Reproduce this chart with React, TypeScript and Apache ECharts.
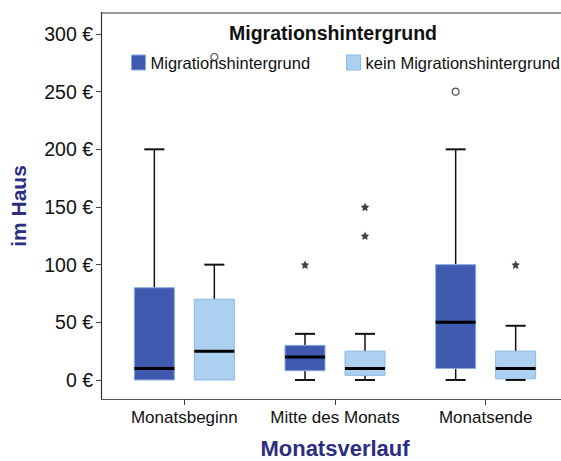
import React, { useEffect, useRef } from "react";
import * as echarts from "echarts";

// ---- data ----
const categories = ["Monatsbeginn", "Mitte des Monats", "Monatsende"];
const groupNames = ["Migrationshintergrund", "kein Migrationshintergrund"];
const legendTitle = "Migrationshintergrund";
const xAxisTitle = "Monatsverlauf";
const yAxisTitle = "im Haus";
const yTicks = [0, 50, 100, 150, 200, 250, 300];
const yRange = [-16.5, 318.2];

// [min, Q1, median, Q3, max] per category
const migrationBoxes = [
  [0, 0, 10, 80, 200],
  [0, 8, 20, 30, 40],
  [0, 10, 50, 100, 200],
];
const keinMigrationBoxes = [
  [0, 0, 25, 70, 100],
  [0, 4, 10, 25, 40],
  [0, 1, 10, 25, 47],
];

// outliers: [category, value, kind]  (kind: "o" = outlier circle, "x" = extreme star)
const migrationOutliers: [string, number, string][] = [
  ["Mitte des Monats", 100, "x"],
  ["Monatsende", 250, "o"],
];
const keinMigrationOutliers: [string, number, string][] = [
  ["Monatsbeginn", 280, "o"],
  ["Mitte des Monats", 150, "x"],
  ["Mitte des Monats", 125, "x"],
  ["Monatsende", 100, "x"],
];

// ---- styles ----
const FONT = "'Liberation Sans', Arial, sans-serif";
const DARK_FILL = "#3f5aae";
const DARK_EDGE = "#86abdc";
const LIGHT_FILL = "#acd0ef";
const LIGHT_EDGE = "#8db7e4";
const TITLE_COLOR = "#2c2c82";
const BOX_W = 40;
const CAP_W = 20;
const OFFSET = 30;
const STAR =
  "path://M0,-10 L2.9,-4 9.5,-3.1 4.7,1.5 5.9,8.1 0,5 -5.9,8.1 -4.7,1.5 -9.5,-3.1 -2.9,-4 Z";

function makeRenderItem(offset: number, fill: string, edge: string) {
  return (_params: any, api: any) => {
    const cat = api.value(0);
    const cx = api.coord([cat, 0])[0] + offset;
    const y = (i: number) => api.coord([cat, api.value(i)])[1];
    const yMin = y(1);
    const yQ1 = y(2);
    const yMed = y(3);
    const yQ3 = y(4);
    const yMax = y(5);
    const lineStyle = { stroke: "#111", lineWidth: 1.5 };
    const capStyle = { stroke: "#111", lineWidth: 2 };
    const children: any[] = [];
    if (api.value(5) > api.value(4)) {
      children.push({ type: "line", shape: { x1: cx, y1: yQ3, x2: cx, y2: yMax }, style: lineStyle });
      children.push({
        type: "line",
        shape: { x1: cx - CAP_W / 2, y1: yMax, x2: cx + CAP_W / 2, y2: yMax },
        style: capStyle,
      });
    }
    if (api.value(1) < api.value(2)) {
      children.push({ type: "line", shape: { x1: cx, y1: yQ1, x2: cx, y2: yMin }, style: lineStyle });
    }
    children.push({
      type: "rect",
      shape: { x: cx - BOX_W / 2, y: yQ3, width: BOX_W, height: yQ1 - yQ3 },
      style: { fill, stroke: edge, lineWidth: 1 },
    });
    children.push({
      type: "line",
      shape: { x1: cx - BOX_W / 2, y1: yMed, x2: cx + BOX_W / 2, y2: yMed },
      style: { stroke: "#000", lineWidth: 3 },
    });
    if (api.value(1) < api.value(2)) {
      children.push({
        type: "line",
        shape: { x1: cx - CAP_W / 2, y1: yMin, x2: cx + CAP_W / 2, y2: yMin },
        style: capStyle,
      });
    }
    return { type: "group", children };
  };
}

function outlierData(list: [string, number, string][]) {
  return list.map(([c, v, k]) =>
    k === "o"
      ? { value: [c, v], symbol: "circle", symbolSize: 7, itemStyle: { color: "#fff", borderColor: "#222", borderWidth: 1.2 } }
      : { value: [c, v], symbol: STAR, symbolSize: 8.5, itemStyle: { color: "#111" } }
  );
}

export default function App() {
  const ref = useRef<HTMLDivElement>(null);
  useEffect(() => {
    document.body.style.margin = "0";
    const chart = echarts.init(ref.current!, null, { renderer: "svg" });
    const boxData = (boxes: number[][]) => boxes.map((b, i) => [i, ...b]);
    chart.setOption({
      animation: false,
      backgroundColor: "#fff",
      textStyle: { fontFamily: FONT },
      grid: { left: 109, width: 452, top: 13, height: 386, outerBoundsMode: "none", containLabel: false },
      legend: {
        orient: "horizontal",
        left: 126,
        top: 49,
        width: 460,
        itemWidth: 14,
        itemHeight: 15,
        itemGap: 36,
        icon: "rect",
        selectedMode: false,
        textStyle: { fontSize: 16.5, color: "#111", fontFamily: FONT },
        data: [
          { name: groupNames[0], itemStyle: { color: DARK_FILL, borderColor: DARK_EDGE, borderWidth: 1 } },
          { name: groupNames[1], itemStyle: { color: LIGHT_FILL, borderColor: LIGHT_EDGE, borderWidth: 1 } },
        ],
      },
      graphic: [
        {
          type: "line",
          shape: { x1: 101.5, y1: 13, x2: 570, y2: 13 },
          style: { stroke: "#999", lineWidth: 2 },
          silent: true,
        },
        {
          type: "line",
          shape: { x1: 101.5, y1: 12, x2: 101.5, y2: 399.5 },
          style: { stroke: "#333", lineWidth: 1.2 },
          silent: true,
        },
        {
          type: "line",
          shape: { x1: 101, y1: 399.5, x2: 570, y2: 399.5 },
          style: { stroke: "#555", lineWidth: 1.2 },
          silent: true,
        },
        {
          type: "text",
          x: 333,
          y: 33,
          style: {
            text: legendTitle,
            font: `bold 19.5px ${FONT}`,
            fill: "#111",
            align: "center",
            verticalAlign: "middle",
          },
        },
      ],
      xAxis: {
        type: "category",
        data: categories,
        axisLine: { show: false, onZero: false },
        axisTick: { show: true, interval: 0, length: 6, alignWithLabel: true, lineStyle: { color: "#444" } },
        axisLabel: { interval: 0, fontSize: 17, color: "#111", margin: 10, fontFamily: FONT },
        name: xAxisTitle,
        nameLocation: "middle",
        nameGap: 38,
        nameTextStyle: { fontSize: 22, fontWeight: "bold", color: TITLE_COLOR, fontFamily: FONT },
        splitLine: { show: false },
      },
      yAxis: {
        type: "value",
        min: yRange[0],
        max: yRange[1],
        offset: 8,
        axisLine: { show: false },
        axisTick: { show: true, length: 5, customValues: yTicks, lineStyle: { color: "#444" } },
        axisLabel: {
          customValues: yTicks,
          fontSize: 19.5,
          color: "#111",
          margin: 8,
          formatter: "{value} €",
          fontFamily: FONT,
        },
        splitLine: { show: false },
        name: yAxisTitle,
        nameLocation: "middle",
        nameRotate: 90,
        nameGap: 72,
        nameTextStyle: { fontSize: 21, fontWeight: "bold", color: TITLE_COLOR, fontFamily: FONT },
      },
      series: [
        {
          name: groupNames[0],
          type: "custom",
          itemStyle: { color: DARK_FILL },
          encode: { x: 0, y: [1, 2, 3, 4, 5] },
          data: boxData(migrationBoxes),
          renderItem: makeRenderItem(-OFFSET, DARK_FILL, DARK_EDGE),
        },
        {
          name: groupNames[1],
          type: "custom",
          itemStyle: { color: LIGHT_FILL },
          encode: { x: 0, y: [1, 2, 3, 4, 5] },
          data: boxData(keinMigrationBoxes),
          renderItem: makeRenderItem(OFFSET, LIGHT_FILL, LIGHT_EDGE),
        },
        {
          name: "Ausreißer " + groupNames[0],
          type: "scatter",
          symbolOffset: [-OFFSET, 0],
          clip: false,
          data: outlierData(migrationOutliers),
          z: 3,
        },
        {
          name: "Ausreißer " + groupNames[1],
          type: "scatter",
          symbolOffset: [OFFSET, 0],
          clip: false,
          data: outlierData(keinMigrationOutliers),
          z: 3,
        },
      ],
    });
    return () => chart.dispose();
  }, []);
  return (
    <div
      ref={ref}
      style={{ position: "fixed", left: 0, top: 0, width: 561, height: 461 }}
    />
  );
}
